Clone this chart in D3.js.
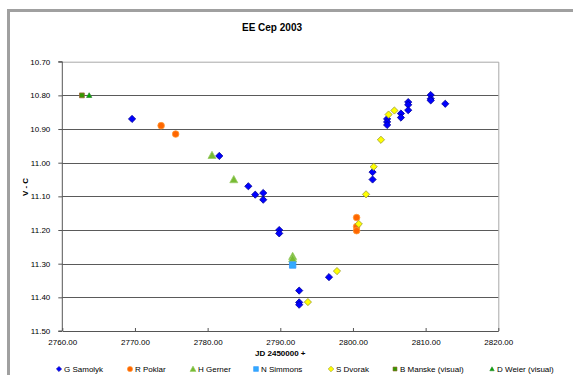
<!DOCTYPE html>
<html><head><meta charset="utf-8">
<script src="https://cdn.jsdelivr.net/npm/d3@7"></script>
<style>html,body{margin:0;padding:0;background:#fff;overflow:hidden}svg{display:block;font-family:Arial,"Liberation Sans",sans-serif}</style>
</head><body><svg id="c" width="573" height="375"></svg>
<script>
const seriesNames = ["G Samolyk","R Poklar","H Gerner","N Simmons","S Dvorak","B Manske (visual)","D Weier (visual)"];
const samolykJD = [2769.6,2781.6,2785.6,2786.55,2787.65,2787.65,2789.85,2789.85,2792.6,2792.6,2792.6,2796.7,2802.7,2802.7,2804.7,2804.7,2804.7,2806.6,2806.6,2807.6,2807.6,2807.6,2810.7,2810.7,2810.7,2812.7];
const samolykMag = [10.87,10.98,11.07,11.095,11.09,11.11,11.20,11.21,11.38,11.415,11.422,11.34,11.028,11.05,10.87,10.879,10.888,10.854,10.866,10.82,10.828,10.844,10.799,10.81,10.815,10.825];
const poklarJD = [2773.6,2775.6,2800.5,2800.5,2800.5];
const poklarMag = [10.89,10.915,11.163,11.19,11.202];
const gernerJD = [2780.6,2783.6,2791.7,2791.7];
const gernerMag = [10.978,11.05,11.278,11.285];
const simmonsJD = [2791.7];
const simmonsMag = [11.304];
const dvorakJD = [2793.8,2797.8,2800.8,2801.8,2802.85,2803.85,2804.9,2805.7];
const dvorakMag = [11.414,11.322,11.182,11.094,11.012,10.932,10.857,10.845];
const manskeJD = [2762.7];
const manskeMag = [10.80];
const weierJD = [2763.7];
const weierMag = [10.80];
const xTicks = [2760,2770,2780,2790,2800,2810,2820];
const yTicks = [10.7,10.8,10.9,11.0,11.1,11.2,11.3,11.4,11.5];

const svg = d3.select("#c");
const L = 62.3, R = 498.3, T = 61.7, B = 331;
const x = d3.scaleLinear().domain([2760,2820]).range([L,R]);
const y = d3.scaleLinear().domain([10.7,11.5]).range([T,B]);

// outer frame
svg.append("path").attr("d","M8.5,400 L8.5,10.5 L580,10.5").attr("fill","none").attr("stroke","#a0a0a0").attr("stroke-width",3);

// title
svg.append("text").attr("x",272).attr("y",31).attr("text-anchor","middle").attr("font-size",10).attr("font-weight","bold").text("EE Cep 2003");

// plot border top/right
svg.append("path").attr("d",`M${L},${T+0.5}H${R+0.5}V${B}`).attr("fill","none").attr("stroke","#a8a8a8").attr("stroke-width",1);

// gridlines
svg.append("g").selectAll("line").data(yTicks.filter(v=>v>10.75 && v<11.45)).join("line")
  .attr("x1",L).attr("x2",R).attr("y1",d=>Math.round(y(d))+0.5).attr("y2",d=>Math.round(y(d))+0.5)
  .attr("stroke","#5a5a5a").attr("stroke-width",1);

// axes
const yAxis = d3.axisLeft(y).tickValues(yTicks).tickFormat(d3.format(".2f")).tickSize(4).tickPadding(8);
const gy = svg.append("g").attr("transform",`translate(${L},0)`).call(yAxis);
const xAxis = d3.axisBottom(x).tickValues(xTicks).tickFormat(d3.format(".2f")).tickSizeInner(-3).tickSizeOuter(0).tickPadding(8);
const gx = svg.append("g").attr("transform",`translate(0,${B})`).call(xAxis);
[gx,gy].forEach(g=>{
  g.selectAll("path.domain").attr("stroke","#555");
  g.selectAll("line").attr("stroke","#555");
  g.selectAll("text").attr("font-size",8).attr("fill","#000").attr("font-family","Arial, 'Liberation Sans', sans-serif");
});
gx.selectAll("text").attr("dy","0.71em");
gy.select("path.domain").attr("d",`M-4,${T}H0V${B}H-4`);

// axis titles
svg.append("text").attr("x",280.3).attr("y",356).attr("text-anchor","middle").attr("font-size",8).attr("font-weight","bold").text("JD 2450000 +");
svg.append("text").attr("transform","translate(28,187) rotate(-90)").attr("text-anchor","middle").attr("font-size",8).attr("font-weight","bold").text("V - C");

// symbols
const diamond = s => `M0,${-s}L${s},0L0,${s}L${-s},0Z`;
const tri = s => `M0,${-s}L${s},${s*0.8}L${-s},${s*0.8}Z`;
const sq = s => `M${-s},${-s}H${s}V${s}H${-s}Z`;
const circ = s => d3.symbol(d3.symbolCircle, Math.PI*s*s)();
const styles = [
  {xs:samolykJD, ys:samolykMag, path:diamond(3.6), fill:"#0000ff", stroke:"#000099", lp:diamond(2.6)},
  {xs:poklarJD, ys:poklarMag, path:circ(3.3), fill:"#ff6600", stroke:"#ff9933", lp:circ(2.6)},
  {xs:gernerJD, ys:gernerMag, path:tri(4), fill:"#77bb33", stroke:"#99cc66", lp:tri(3)},
  {xs:simmonsJD, ys:simmonsMag, path:sq(3.2), fill:"#33aaff", stroke:"#3399ff", lp:sq(2.4)},
  {xs:dvorakJD, ys:dvorakMag, path:diamond(3.6), fill:"#ffff00", stroke:"#999933", lp:diamond(2.8)},
  {xs:manskeJD, ys:manskeMag, path:sq(2.4), fill:"#339900", stroke:"#996633", lp:sq(2)},
  {xs:weierJD, ys:weierMag, path:tri(2.6), fill:"#00aa00", stroke:"#338833", lp:tri(2.2)}
];
styles.forEach(s=>{
  const pts = s.xs.map((v,i)=>[v,s.ys[i]]);
  svg.append("g").selectAll("path").data(pts).join("path")
    .attr("transform",d=>`translate(${x(d[0])},${y(d[1])})`)
    .attr("d",s.path).attr("fill",s.fill).attr("stroke",s.stroke).attr("stroke-width",0.8);
});

// legend
const legX = [59,130,193,256,331,395,492];
const lg = svg.append("g");
seriesNames.forEach((n,i)=>{
  const s = styles[i];
  lg.append("path").attr("transform",`translate(${legX[i]},369)`).attr("d",s.lp).attr("fill",s.fill).attr("stroke",s.stroke).attr("stroke-width",0.6);
  lg.append("text").attr("x",legX[i]+5).attr("y",372).attr("font-size",8).text(n);
});
</script></body></html>
